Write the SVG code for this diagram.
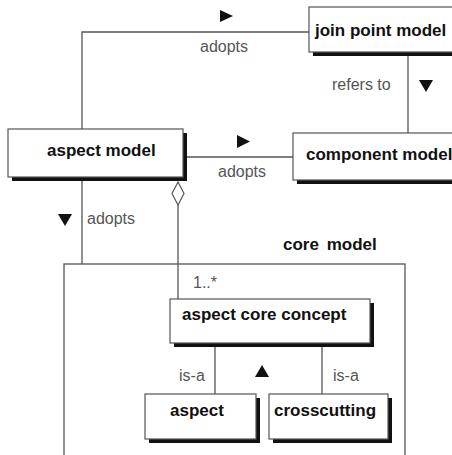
<svg xmlns="http://www.w3.org/2000/svg" width="452" height="455" viewBox="0 0 452 455">
<style>
.box{fill:#fff;stroke:#555;stroke-width:1.2}
.shadow{fill:#111}
.name{font-family:"Liberation Sans",Arial,sans-serif;font-weight:bold;font-size:17px;fill:#111}
.lbl{font-family:"Liberation Sans",Arial,sans-serif;font-size:16px;fill:#555}
.ln{stroke:#555;stroke-width:1.3;fill:none}
.tri{fill:#111}
</style>
<rect width="452" height="455" fill="#fff"/>
<g id="connectors">
<polyline class="ln" points="82,129 82,32 309,32"/>
<line class="ln" x1="408" y1="55" x2="408" y2="133"/>
<line class="ln" x1="183" y1="157" x2="293" y2="157"/>
<line class="ln" x1="82" y1="181" x2="82" y2="264"/>
<polygon points="178,182 184,193.5 178,205 172,193.5" fill="#fff" stroke="#555" stroke-width="1.2"/>
<line class="ln" x1="178" y1="205" x2="178" y2="299"/>
<line class="ln" x1="215" y1="347" x2="215" y2="394"/>
<line class="ln" x1="322" y1="347" x2="322" y2="394"/>
<polygon class="tri" points="220,10 233,16 220,22"/>
<polygon class="tri" points="237,135 250,141.5 237,148"/>
<polygon class="tri" points="419,80 433,80 426,92"/>
<polygon class="tri" points="58,214 72,214 65,226"/>
<polygon class="tri" points="255,377 269,377 262,365"/>
<text class="lbl" x="200" y="52">adopts</text>
<text class="lbl" x="332" y="90">refers to</text>
<text class="lbl" x="218" y="177">adopts</text>
<text class="lbl" x="87" y="224">adopts</text>
<text class="lbl" x="193" y="288" fill="#777">1..*</text>
<text class="lbl" x="179" y="381">is-a</text>
<text class="lbl" x="333" y="381">is-a</text>
</g>
<g id="core-model">
<rect x="64" y="264" width="341" height="200" fill="none" stroke="#555" stroke-width="1.3"/>
<text class="name" x="283" y="250" word-spacing="3">core model</text>
</g>
<g id="join-point-model">
<rect class="shadow" x="313" y="11" width="150" height="45"/>
<rect class="box" x="309" y="7" width="150" height="45"/>
<text class="name" x="315" y="36">join point model</text>
</g>
<g id="aspect-model">
<rect class="shadow" x="12" y="133" width="175" height="48"/>
<rect class="box" x="8" y="129" width="175" height="48"/>
<text class="name" x="47" y="156">aspect model</text>
</g>
<g id="component-model">
<rect class="shadow" x="297" y="137" width="170" height="47"/>
<rect class="box" x="293" y="133" width="170" height="47"/>
<text class="name" x="306" y="160">component model</text>
</g>
<g id="aspect-core-concept">
<rect class="shadow" x="174" y="303" width="200" height="44"/>
<rect class="box" x="170" y="299" width="200" height="44"/>
<text class="name" x="182" y="320">aspect core concept</text>
</g>
<g id="aspect">
<rect class="shadow" x="149" y="398" width="111" height="45"/>
<rect class="box" x="145" y="394" width="111" height="45"/>
<text class="name" x="170" y="416">aspect</text>
</g>
<g id="crosscutting">
<rect class="shadow" x="273" y="398" width="119" height="45"/>
<rect class="box" x="269" y="394" width="119" height="45"/>
<text class="name" x="274" y="416">crosscutting</text>
</g>
</svg>
